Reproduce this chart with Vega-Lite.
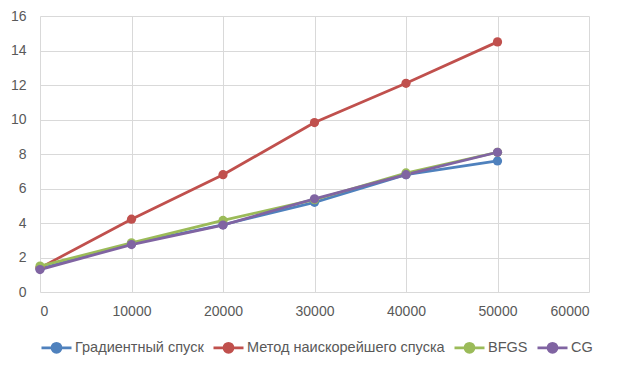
{
  "$schema": "https://vega.github.io/schema/vega-lite/v6.json",
  "width": 549,
  "height": 276,
  "autosize": {"type": "none"},
  "padding": {"left": 40, "top": 16, "right": 33, "bottom": 78},
  "background": "white",
  "config": {
    "view": {"stroke": null},
    "font": "Liberation Sans, sans-serif",
    "axis": {
      "labelFont": "Liberation Sans, sans-serif",
      "labelFontSize": 14,
      "labelColor": "#595959",
      "gridColor": "#D9D9D9",
      "gridWidth": 1,
      "domain": false,
      "ticks": false,
      "title": null
    }
  },
  "data": {
    "values": [
      {"n": 0, "t": 1.35, "method": "Градиентный спуск"},
      {"n": 10000, "t": 2.8, "method": "Градиентный спуск"},
      {"n": 20000, "t": 3.9, "method": "Градиентный спуск"},
      {"n": 30000, "t": 5.2, "method": "Градиентный спуск"},
      {"n": 40000, "t": 6.8, "method": "Градиентный спуск"},
      {"n": 50000, "t": 7.6, "method": "Градиентный спуск"},
      {"n": 0, "t": 1.4, "method": "Метод наискорейшего спуска"},
      {"n": 10000, "t": 4.22, "method": "Метод наискорейшего спуска"},
      {"n": 20000, "t": 6.8, "method": "Метод наискорейшего спуска"},
      {"n": 30000, "t": 9.82, "method": "Метод наискорейшего спуска"},
      {"n": 40000, "t": 12.1, "method": "Метод наискорейшего спуска"},
      {"n": 50000, "t": 14.5, "method": "Метод наискорейшего спуска"},
      {"n": 0, "t": 1.5, "method": "BFGS"},
      {"n": 10000, "t": 2.85, "method": "BFGS"},
      {"n": 20000, "t": 4.15, "method": "BFGS"},
      {"n": 30000, "t": 5.35, "method": "BFGS"},
      {"n": 40000, "t": 6.9, "method": "BFGS"},
      {"n": 50000, "t": 8.1, "method": "BFGS"},
      {"n": 0, "t": 1.3, "method": "CG"},
      {"n": 10000, "t": 2.75, "method": "CG"},
      {"n": 20000, "t": 3.88, "method": "CG"},
      {"n": 30000, "t": 5.4, "method": "CG"},
      {"n": 40000, "t": 6.8, "method": "CG"},
      {"n": 50000, "t": 8.1, "method": "CG"}
    ]
  },
  "mark": {"type": "line", "strokeWidth": 2.75, "point": {"filled": true, "size": 85}},
  "encoding": {
    "x": {
      "field": "n", "type": "quantitative",
      "scale": {"domain": [0, 60000], "nice": false},
      "axis": {"values": [0, 10000, 20000, 30000, 40000, 50000, 60000], "format": "d", "labelPadding": 12, "grid": true}
    },
    "y": {
      "field": "t", "type": "quantitative",
      "scale": {"domain": [0, 16], "nice": false},
      "axis": {"values": [0, 2, 4, 6, 8, 10, 12, 14, 16], "labelPadding": 14, "grid": true}
    },
    "color": {
      "field": "method", "type": "nominal",
      "scale": {
        "domain": ["Градиентный спуск", "Метод наискорейшего спуска", "BFGS", "CG"],
        "range": ["#4F81BD", "#C0504D", "#9BBB59", "#8064A2"]
      },
      "legend": {
        "title": null,
        "orient": "none",
        "legendX": 0,
        "legendY": 315,
        "direction": "horizontal",
        "symbolType": "M-1,0H1M-0.3,0A0.3,0.3 0 1,1 0.3,0A0.3,0.3 0 1,1 -0.3,0Z",
        "symbolSize": 900,
        "symbolStrokeWidth": 2.75,
        "labelFont": "Liberation Sans, sans-serif",
        "labelFontSize": 14.5,
        "labelLimit": 0,
        "labelColor": "#595959",
        "labelOffset": 2,
        "columnPadding": 4,
        "encode": {
          "symbols": {"update": {"fill": {"scale": "color", "field": "value"}, "fillOpacity": {"value": 1}}}
        }
      }
    },
    "order": {"field": "n", "type": "quantitative"}
  }
}
